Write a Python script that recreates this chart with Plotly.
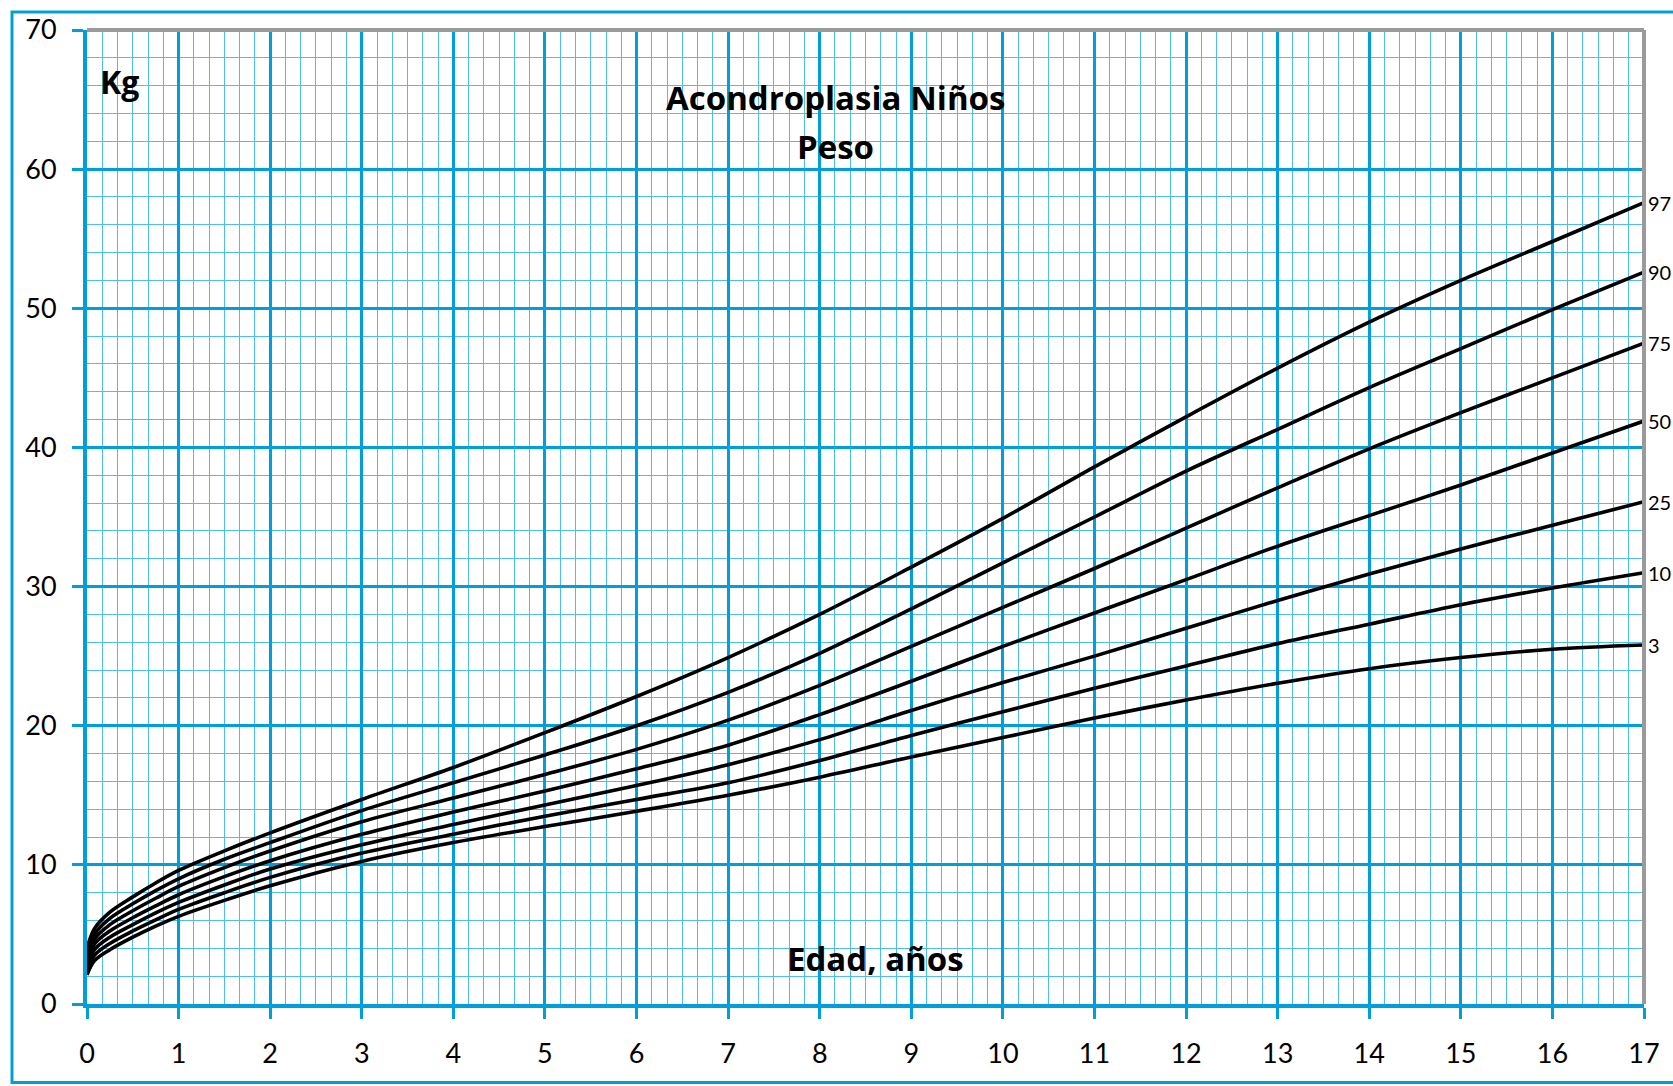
import plotly.graph_objects as go

# ---------------- data ----------------
ages = [0, 0.08, 0.25, 0.5, 0.75, 1, 1.5, 2, 3, 4, 5, 6, 7, 8, 9, 10, 11, 12, 13, 14, 15, 16, 17]
p97 = [4.0, 5.4, 6.6, 7.7, 8.7, 9.6, 11.0, 12.3, 14.7, 17.0, 19.5, 22.1, 24.9, 28.0, 31.4, 34.9, 38.6, 42.2, 45.7, 49.0, 52.0, 54.8, 57.6]
p90 = [3.6, 5.0, 6.15, 7.2, 8.15, 9.0, 10.4, 11.6, 13.9, 15.9, 17.9, 20.0, 22.4, 25.2, 28.4, 31.7, 35.0, 38.3, 41.3, 44.3, 47.1, 49.9, 52.6]
p75 = [3.3, 4.65, 5.7, 6.7, 7.6, 8.45, 9.8, 11.0, 13.1, 14.8, 16.5, 18.3, 20.4, 22.9, 25.7, 28.5, 31.3, 34.2, 37.1, 39.9, 42.5, 45.0, 47.5]
p50 = [3.0, 4.3, 5.25, 6.2, 7.05, 7.85, 9.15, 10.3, 12.2, 13.8, 15.3, 16.9, 18.6, 20.8, 23.2, 25.7, 28.1, 30.5, 32.9, 35.1, 37.3, 39.6, 41.9]
p25 = [2.7, 3.9, 4.8, 5.7, 6.55, 7.3, 8.55, 9.7, 11.45, 12.9, 14.3, 15.7, 17.2, 19.0, 21.1, 23.1, 25.0, 27.0, 29.0, 30.9, 32.7, 34.4, 36.1]
p10 = [2.4, 3.5, 4.35, 5.25, 6.05, 6.8, 8.0, 9.1, 10.85, 12.2, 13.5, 14.7, 15.9, 17.5, 19.3, 21.0, 22.7, 24.3, 25.9, 27.3, 28.7, 29.9, 31.0]
p3 = [2.1, 3.1, 3.9, 4.8, 5.6, 6.3, 7.45, 8.5, 10.25, 11.6, 12.75, 13.85, 15.0, 16.3, 17.75, 19.15, 20.55, 21.85, 23.05, 24.1, 24.9, 25.5, 25.8]

series = [("97", p97), ("90", p90), ("75", p75), ("50", p50),
          ("25", p25), ("10", p10), ("3", p3)]

x_ticks = list(range(0, 18))
y_ticks = list(range(0, 71, 10))

title_line1 = "Acondroplasia Niños"
title_line2 = "Peso"
y_label = "Kg"
x_label = "Edad, años"

# ---------------- styling ----------------
W, H = 1673, 1086
ML, MR, MT, MB = 87, 29, 24, 82
PW, PH = W - ML - MR, H - MT - MB
FONT = "Lato"
BOLD_FONT = "Open Sans"
MAJOR = "#009FDB"
MINOR = "#4DBDEA"
GRAY = "#9A9A9A"


def px(xp):
    return (xp - ML) / PW


def py(yp):
    return (H - MB - yp) / PH


fig = go.Figure()
for name, vals in series:
    fig.add_trace(go.Scatter(x=ages, y=vals, mode="lines", name=name,
                             line=dict(color="black", width=3.6, shape="spline", smoothing=0.9),
                             showlegend=False, hoverinfo="x+y+name"))
    fig.add_annotation(x=ages[-1], y=vals[-1], text=name, showarrow=False,
                       xanchor="left", yanchor="middle", xshift=2,
                       font=dict(family=FONT, size=20, color="black"))

fig.update_xaxes(range=[0, 17], tickvals=x_ticks, ticktext=[str(v) for v in x_ticks],
                 showgrid=True, gridcolor=MAJOR, gridwidth=3,
                 minor=dict(dtick=1 / 6, tick0=0, showgrid=True, gridcolor=MINOR, gridwidth=1.4),
                 showline=True, linecolor=MAJOR, linewidth=4,
                 ticks="outside", ticklen=11, tickwidth=3, tickcolor=MAJOR,
                 tickfont=dict(family=FONT, size=27, color="black"),
                 ticklabelstandoff=12, zeroline=False, fixedrange=True)
fig.update_yaxes(range=[0, 70], tickvals=y_ticks, ticktext=[str(v) for v in y_ticks],
                 showgrid=True, gridcolor=MAJOR, gridwidth=3,
                 minor=dict(dtick=2, tick0=0, showgrid=True, gridcolor=MINOR, gridwidth=1.4),
                 showline=True, linecolor=MAJOR, linewidth=4,
                 ticks="outside", ticklen=11, tickwidth=3, tickcolor=MAJOR,
                 tickfont=dict(family=FONT, size=27, color="black"),
                 ticklabelstandoff=10, zeroline=False, fixedrange=True)

# gray top / right frame of the plot area
fig.add_shape(type="line", xref="paper", yref="paper", x0=0, x1=1, y0=1, y1=1,
              line=dict(color=GRAY, width=4), layer="above")
fig.add_shape(type="line", xref="paper", yref="paper", x0=1, x1=1, y0=0, y1=1,
              line=dict(color=GRAY, width=4), layer="above")
# outer blue frame of the chart
fig.add_shape(type="rect", xref="paper", yref="paper",
              x0=px(12), x1=px(1690), y0=py(1083), y1=py(6),
              line=dict(color=MAJOR, width=3), layer="below")

fig.add_annotation(xref="paper", yref="paper", x=px(835), y=py(92), text="<b>%s</b>" % title_line1,
                   showarrow=False, xanchor="center", yanchor="middle",
                   font=dict(family=BOLD_FONT, size=33, color="black"))
fig.add_annotation(xref="paper", yref="paper", x=px(835), y=py(141), text="<b>%s</b>" % title_line2,
                   showarrow=False, xanchor="center", yanchor="middle",
                   font=dict(family=BOLD_FONT, size=33, color="black"))
fig.add_annotation(xref="paper", yref="paper", x=px(119), y=py(76), text="<b>%s</b>" % y_label,
                   showarrow=False, xanchor="center", yanchor="middle",
                   font=dict(family=BOLD_FONT, size=32, color="black"))
fig.add_annotation(xref="paper", yref="paper", x=px(875), y=py(958), text="<b>%s</b>" % x_label,
                   showarrow=False, xanchor="center", yanchor="middle",
                   font=dict(family=BOLD_FONT, size=33, color="black"))

fig.update_layout(width=W, height=H, autosize=False,
                  margin=dict(l=ML, r=MR, t=MT, b=MB, pad=0),
                  paper_bgcolor="white", plot_bgcolor="white",
                  font=dict(family=FONT, color="black"))

fig.write_html("out.html", config={"displayModeBar": False},
               post_script="document.body.style.margin='0';")
